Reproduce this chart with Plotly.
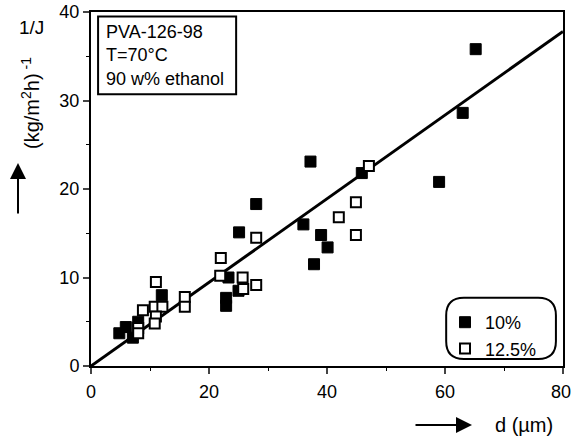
import plotly.graph_objects as go

# 10% PVA (filled squares)
d_10 = [65.2, 63.0, 59.0, 45.9, 37.2, 36.0, 39.0, 40.1, 37.8, 28.0, 25.1, 23.3, 25.0, 22.9, 22.9, 12.0, 8.0, 5.9, 4.8, 7.1]
j_10 = [35.8, 28.6, 20.8, 21.8, 23.1, 16.0, 14.8, 13.4, 11.5, 18.3, 15.1, 10.0, 8.5, 7.7, 6.8, 8.0, 5.0, 4.4, 3.7, 3.2]

# 12.5% PVA (open squares)
d_125 = [47.1, 44.9, 42.0, 44.9, 28.0, 22.0, 21.9, 25.7, 28.0, 25.8, 11.0, 15.9, 15.9, 8.8, 10.8, 12.1, 11.0, 10.8, 8.0, 8.0]
j_125 = [22.6, 18.5, 16.8, 14.8, 14.5, 12.2, 10.2, 10.0, 9.15, 8.7, 9.5, 7.8, 6.7, 6.3, 6.7, 6.7, 5.6, 4.8, 4.3, 3.7]

# fitted line through origin
line_x = [0, 80]
line_y = [0, 37.8]

x_ticks = [0, 20, 40, 60, 80]
y_ticks = [0, 10, 20, 30, 40]

FONT = "Liberation Sans, Arial, sans-serif"

fig = go.Figure()
fig.add_trace(go.Scatter(x=line_x, y=line_y, mode="lines",
                         line=dict(color="black", width=3), showlegend=False, hoverinfo="skip"))
fig.add_trace(go.Scatter(x=d_10, y=j_10, mode="markers", name="10%",
                         marker=dict(symbol="square", size=11, color="black",
                                     line=dict(color="black", width=1))))
fig.add_trace(go.Scatter(x=d_125, y=j_125, mode="markers", name="12.5%",
                         marker=dict(symbol="square", size=10, color="white",
                                     line=dict(color="black", width=2))))

L, R, T, B = 91, 9, 12, 72
W, H = 572, 438
pw, ph = W - L - R, H - T - B

def px(xp):
    return (xp - L) / pw

def py(yp):
    return (H - B - yp) / ph

# rounded legend box in data coordinates
x0, x1, y0, y1 = 60.2, 78.8, 0.8, 7.7
rx, ry = 3.0, 2.0
path = (f"M {x0+rx},{y0} L {x1-rx},{y0} Q {x1},{y0} {x1},{y0+ry} "
        f"L {x1},{y1-ry} Q {x1},{y1} {x1-rx},{y1} L {x0+rx},{y1} "
        f"Q {x0},{y1} {x0},{y1-ry} L {x0},{y0+ry} Q {x0},{y0} {x0+rx},{y0} Z")

shapes = [
    dict(type="path", path=path, xref="x", yref="y", line=dict(color="black", width=2)),
    dict(type="rect", x0=1.2, x1=24.6, y0=30.7, y1=39.5, xref="x", yref="y",
         line=dict(color="black", width=2), fillcolor="white"),
]

C = dict(xanchor="center", yanchor="middle", showarrow=False)
annotations = [
    dict(x=2.2, y=39.1, xref="x", yref="y", xanchor="left", yanchor="top", align="left",
         text="PVA-126-98<br>T=70°C<br>90 w% ethanol", showarrow=False,
         font=dict(size=18, family=FONT, color="black")),
    dict(x=px(31), y=py(27), xref="paper", yref="paper", text="1/J",
         font=dict(size=19, family=FONT, color="black"), **C),
    dict(x=px(30), y=py(103), xref="paper", yref="paper", text="(kg/m<sup>2</sup>h)<sup> -1</sup>",
         textangle=-90, font=dict(size=20, family=FONT, color="black"), **C),
    dict(x=px(18), y=py(163), xref="paper", yref="paper", text="", showarrow=True,
         ax=0, ay=52, arrowhead=2, arrowsize=1.6, arrowwidth=2, arrowcolor="black"),
    dict(x=px(472), y=py(425), xref="paper", yref="paper", text="", showarrow=True,
         ax=-58, ay=0, arrowhead=2, arrowsize=1.6, arrowwidth=2, arrowcolor="black"),
    dict(x=px(524), y=py(425), xref="paper", yref="paper", text="d (µm)",
         font=dict(size=20, family=FONT, color="black"), **C),
    # last x tick label (plotly would drop it as it touches the page edge)
    dict(x=x_ticks[-1], y=py(392), xref="x", yref="paper", text=str(x_ticks[-1]),
         xshift=-2, font=dict(size=18, family=FONT, color="black"), **C),
]

fig.update_layout(
    width=W, height=H, margin=dict(l=L, r=R, t=T, b=B, autoexpand=False),
    plot_bgcolor="white", paper_bgcolor="white",
    font=dict(family=FONT, size=18, color="black"),
    shapes=shapes, annotations=annotations,
    legend=dict(x=px(445), y=py(304), xanchor="left", yanchor="top",
                bgcolor="rgba(0,0,0,0)", borderwidth=0, font=dict(size=18),
                tracegroupgap=0, itemwidth=30),
)
fig.update_xaxes(range=[0, 80], tickvals=x_ticks,
                 ticktext=[str(v) for v in x_ticks[:-1]] + [""],
                 ticks="outside", ticklen=6, tickwidth=2, ticklabelstandoff=2,
                 automargin=False,
                 showgrid=False, zeroline=False, showline=True, linecolor="black", linewidth=2,
                 mirror=True, minor=dict(tickvals=[10, 30, 50, 70], ticks="outside", ticklen=3,
                                         tickwidth=1, tickcolor="black"),
                 tickfont=dict(size=18))
fig.update_yaxes(range=[0, 40], tickvals=y_ticks, ticks="outside", ticklen=6, tickwidth=2,
                 automargin=False,
                 showgrid=False, zeroline=False, showline=True, linecolor="black", linewidth=2,
                 mirror=True, minor=dict(tickvals=[5, 15, 25, 35], ticks="outside", ticklen=3,
                                         tickwidth=1, tickcolor="black"),
                 tickfont=dict(size=18))

fig.write_html("out.html")
